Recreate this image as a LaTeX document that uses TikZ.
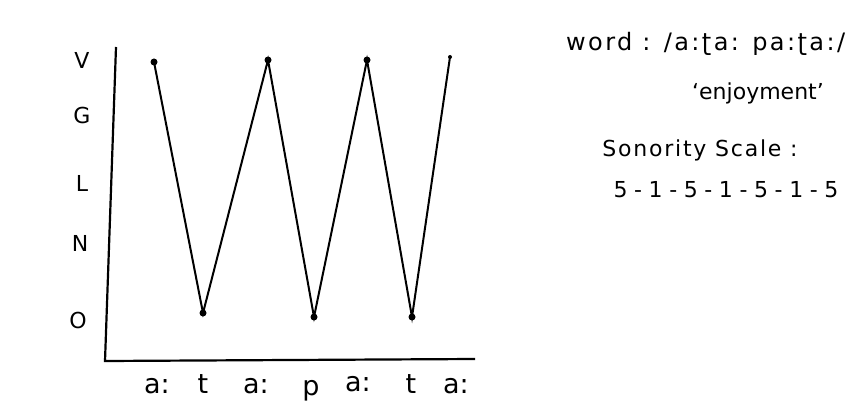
\documentclass[tikz,border=0pt]{standalone}
\usepackage{fontspec}
\setmainfont{DejaVu Sans}
\usepackage{tikz}
\usetikzlibrary{positioning}

\begin{document}
\begin{tikzpicture}[x=1pt, y=-1pt,
          lbl/.style={font=\fontsize{22}{24}\selectfont, inner sep=0pt},
          seg/.style={font=\fontsize{27}{29}\selectfont, inner sep=0pt},
          note/.style={font=\fontsize{22}{24}\selectfont, inner sep=0pt},
          pt/.style={circle, fill=black, inner sep=0pt, minimum size=7pt},
          axis/.style={line width=2.2pt},
          zig/.style={line width=2pt}
        ]
        \useasboundingbox (0,0) rectangle (866,414);

        % Axes
        \coordinate (ytop) at (116, 47);
        \coordinate (orig) at (105, 361);
        \coordinate (xend) at (475, 359);
        \draw[axis] (ytop)--(orig)--(xend);

        % Sonority levels
        \node[lbl] (lV) at (82, 60)  {V};
        \node[lbl] (lG) at (82, 115) {G};
        \node[lbl] (lL) at (82, 183) {L};
        \node[lbl] (lN) at (80, 243) {N};
        \node[lbl] (lO) at (78, 320) {O};

        % Segments
        \node[seg] (s1) at (157, 386) {a:};
        \node[seg] (s2) at (203, 384) {t};
        \node[seg] (s3) at (256, 386) {a:};
        \node[seg] (s4) at (311, 391) {p};
        \node[seg] (s5) at (358, 384) {a:};
        \node[seg] (s6) at (411, 384) {t};
        \node[seg] (s7) at (456, 386) {a:};

        % Sonority curve
        \node[pt] (p1) at (154, 62)  {};
        \node[pt] (p2) at (203, 313) {};
        \node[pt] (p3) at (268, 60)  {};
        \node[pt] (p4) at (314, 317) {};
        \node[pt] (p5) at (367, 60)  {};
        \node[pt] (p6) at (412, 317) {};
        \node[pt, minimum size=4pt] (p7) at (450, 57) {};
        \draw[zig] (p1.center)--(p2.center)--(p3.center)--(p4.center)
              --(p5.center)--(p6.center)--(p7.center);

        % Word and scale
        \node[note, anchor=west, font=\fontsize{24}{26}\selectfont] (word) at (566, 44)
              {\addfontfeature{LetterSpace=10}word : /a:ʈa: pa:ʈa:/};
        \node[note] (gloss) at (758, 93) {‘enjoyment’};
        \node[note] (sslbl) at (700, 150)
              {\addfontfeature{LetterSpace=8}Sonority Scale :};
        \node[note] (ssval) at (726, 190)
              {\addfontfeature{LetterSpace=30}5-1-5-1-5-1-5};
      \end{tikzpicture}
\end{document}
